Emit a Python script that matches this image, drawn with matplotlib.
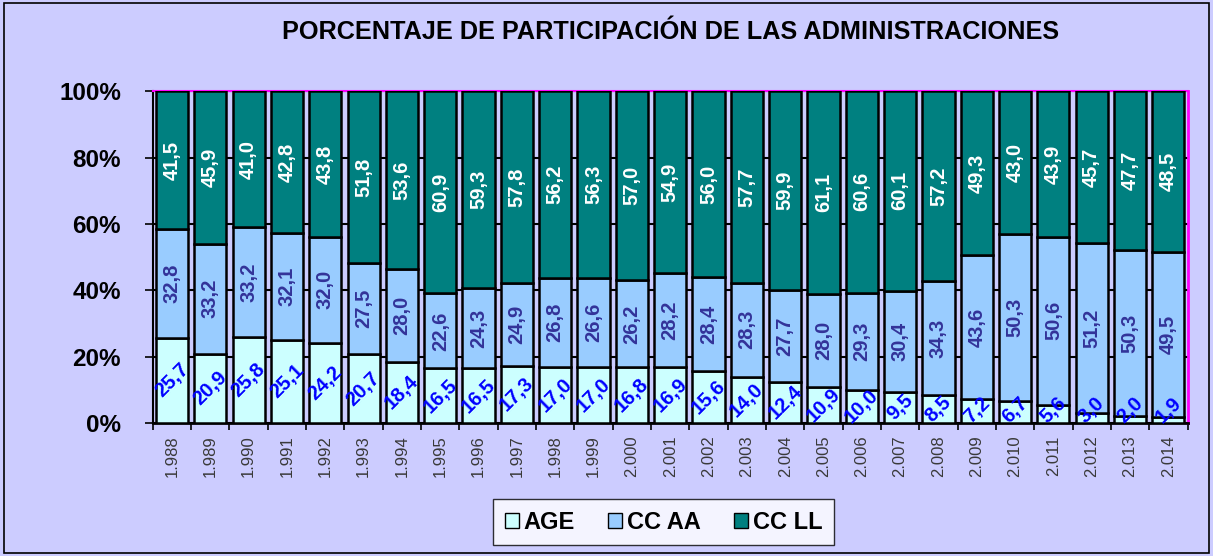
import matplotlib
matplotlib.use("Agg")
import matplotlib.pyplot as plt
import matplotlib.patches as patch
import numpy as np

plt.rcParams['font.family'] = ['Liberation Sans', 'DejaVu Sans']

# datos
years = [1988, 1989, 1990, 1991, 1992, 1993, 1994, 1995, 1996, 1997, 1998, 1999, 2000, 2001,
         2002, 2003, 2004, 2005, 2006, 2007, 2008, 2009, 2010, 2011, 2012, 2013, 2014]
age = [25.7, 20.9, 25.8, 25.1, 24.2, 20.7, 18.4, 16.5, 16.5, 17.3, 17.0, 17.0, 16.8, 16.9,
       15.6, 14.0, 12.4, 10.9, 10.0, 9.5, 8.5, 7.2, 6.7, 5.6, 3.0, 2.0, 1.9]
ccaa = [32.8, 33.2, 33.2, 32.1, 32.0, 27.5, 28.0, 22.6, 24.3, 24.9, 26.8, 26.6, 26.2, 28.2,
        28.4, 28.3, 27.7, 28.0, 29.3, 30.4, 34.3, 43.6, 50.3, 50.6, 51.2, 50.3, 49.5]
ccll = [41.5, 45.9, 41.0, 42.8, 43.8, 51.8, 53.6, 60.9, 59.3, 57.8, 56.2, 56.3, 57.0, 54.9,
        56.0, 57.7, 59.9, 61.1, 60.6, 60.1, 57.2, 49.3, 43.0, 43.9, 45.7, 47.7, 48.5]
year_labels = ['{:,}'.format(y).replace(',', '.') for y in years]

bg = '#CCCCFF'
fig = plt.figure(figsize=(12.13, 5.56), dpi=100, facecolor=bg)
ax = fig.add_axes([0.126, 0.239, 0.853, 0.597])
ax.set_facecolor(bg)

x = np.arange(len(years))
a = np.array(age)
b = np.array(ccaa)
c = np.array(ccll)
tot = a + b + c
pa = a / tot * 100
pb = b / tot * 100
pc = c / tot * 100

w = 0.84
ax.bar(x, pa, w, color='#CCFFFF', edgecolor='black', lw=1.8, label='AGE', zorder=3)
ax.bar(x, pb, w, bottom=pa, color='#99CCFF', edgecolor='black', lw=1.8, label='CC AA', zorder=3)
ax.bar(x, pc, w, bottom=pa + pb, color='#008080', edgecolor='black', lw=1.8, label='CC LL', zorder=3)

# etiquetas
for i in range(len(years)):
    ya = max(pa[i] / 2, 3.8)
    ax.text(x[i], ya, ('%.1f' % age[i]).replace('.', ','), rotation=45, ha='center', va='center',
            color='#0000FF', fontsize=14.5, fontweight='bold', zorder=5)
    ax.text(x[i], pa[i] + pb[i] / 2, ('%.1f' % ccaa[i]).replace('.', ','), rotation=90,
            ha='center', va='center', color='#333399', fontsize=14.5, fontweight='bold', zorder=5)
    ax.text(x[i], pa[i] + pb[i] + pc[i] / 2, ('%.1f' % ccll[i]).replace('.', ','), rotation=90,
            ha='center', va='center', color='white', fontsize=14.5, fontweight='bold', zorder=5)

ax.set_xlim(-0.5, len(years) - 0.5)
ax.set_ylim(0, 100)
ax.set_yticks([0, 20, 40, 60, 80, 100])
ax.set_yticklabels(['0%', '20%', '40%', '60%', '80%', '100%'], fontsize=17.5, fontweight='bold')
ax.yaxis.grid(True, color='black', lw=1.5, zorder=1)
ax.tick_params(axis='y', length=6, width=1.2, pad=17)

ax.set_xticks(x)
ax.set_xticklabels(year_labels, rotation=90, fontsize=12, color='#3a3a3a')
ax.set_xticks(np.arange(len(years) + 1) - 0.5, minor=True)
ax.tick_params(axis='x', which='major', length=0, pad=9)
ax.tick_params(axis='x', which='minor', length=5, width=1.2)

ax.spines['left'].set_color('black')
ax.spines['left'].set_linewidth(1.5)
ax.spines['bottom'].set_color('black')
ax.spines['bottom'].set_linewidth(2)
ax.spines['top'].set_color('magenta')
ax.spines['top'].set_linewidth(1.5)
ax.spines['right'].set_color('magenta')
ax.spines['right'].set_linewidth(2)

fig.text(0.553, 0.942, 'PORCENTAJE DE PARTICIPACIÓN DE LAS ADMINISTRACIONES',
         ha='center', va='center', fontsize=18.2, fontweight='bold')

leg = fig.legend(loc='center', bbox_to_anchor=(0.547, 0.061), ncol=3, frameon=True,
                 fancybox=False, edgecolor='black', handlelength=0.6, handleheight=0.6,
                 handletextpad=0.2, columnspacing=1.4, borderpad=0.5,
                 prop={'size': 17, 'weight': 'bold'})
leg.get_frame().set_linewidth(1)
for h in leg.legend_handles:
    h.set_linewidth(1)

fig.patches.append(patch.Rectangle((0.003, 0.005), 0.994, 0.99, transform=fig.transFigure,
                                   fill=False, edgecolor='black', lw=1.2))

fig.savefig('out.png', dpi=100, facecolor=bg)
